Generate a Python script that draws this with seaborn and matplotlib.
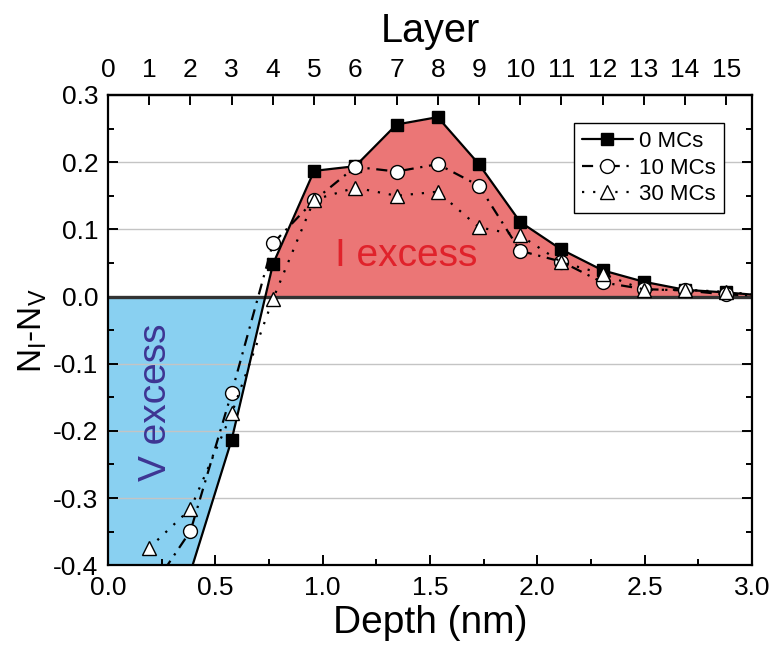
import numpy as np
import pandas as pd
import matplotlib
matplotlib.use("Agg")
import matplotlib.pyplot as plt
from matplotlib.ticker import MultipleLocator
import seaborn as sns

# ---- data ----
layer_nm = 0.192                      # depth of one layer (nm)
layers = list(range(1, 17))
mc0 = [-0.62, -0.41, -0.213, 0.048, 0.187, 0.194, 0.256, 0.267, 0.197, 0.111,
       0.070, 0.039, 0.022, 0.010, 0.006, 0.001]
mc10 = [-0.44, -0.349, -0.143, 0.079, 0.143, 0.193, 0.186, 0.197, 0.165, 0.068,
        0.052, 0.021, 0.011, 0.009, 0.003, 0.001]
mc30 = [-0.374, -0.316, -0.174, -0.004, 0.144, 0.162, 0.150, 0.156, 0.103, 0.091,
        0.051, 0.034, 0.010, 0.010, 0.007, 0.001]
series_names = ["0 MCs", "10 MCs", "30 MCs"]
layer_ticks = list(range(0, 16))

depth = np.array(layers) * layer_nm

sns.set_theme(style="white")
plt.rcParams["font.family"] = ["Liberation Sans", "DejaVu Sans"]
plt.rcParams["mathtext.default"] = "regular"
for k in ["text.color", "axes.labelcolor", "xtick.color", "ytick.color"]:
    plt.rcParams[k] = "black"

fig = plt.figure(figsize=(7.72, 6.46), dpi=100)
ax = fig.add_axes([0.140, 0.125, 0.834, 0.728])

RED = "#EB7676"
BLUE = "#89D0F1"

# fills under the 0 MCs curve
fx = np.r_[0.0, depth]
fy = np.r_[mc0[0], mc0]
ax.fill_between(fx, fy, 0, where=fy <= 0, interpolate=True, color=BLUE,
                linewidth=0, zorder=0.3)
ax.fill_between(fx, fy, 0, where=fy >= 0, interpolate=True, color=RED,
                linewidth=0, zorder=1)

ax.set_axisbelow(True)
ax.yaxis.grid(True, color="#C4C4C4", linewidth=1.0)
ax.xaxis.grid(False)
ax.axhline(0, color="#333333", linewidth=2.4, zorder=1.5)

styles = [
    dict(marker="s", markersize=8.5, markerfacecolor="black", linestyle="-", zorder=3),
    dict(marker="o", markersize=10, markerfacecolor="white", linestyle=(0, (5, 3, 1, 3)), zorder=4),
    dict(marker="^", markersize=10.5, markerfacecolor="white", linestyle=(0, (1, 4)), zorder=5),
]
for name, vals, st in zip(series_names, [mc0, mc10, mc30], styles):
    df = pd.DataFrame({"depth": depth, "value": vals})
    sns.lineplot(data=df, x="depth", y="value", ax=ax, color="black",
                 linewidth=1.6, markeredgecolor="black", markeredgewidth=1.0,
                 sort=False, estimator=None, label=name, **st)

ax.set_xlim(0, 3.0)
ax.set_ylim(-0.4, 0.3)
ax.xaxis.set_major_locator(MultipleLocator(0.5))
ax.xaxis.set_minor_locator(MultipleLocator(0.25))
ax.yaxis.set_major_locator(MultipleLocator(0.1))
ax.yaxis.set_minor_locator(MultipleLocator(0.05))
ax.xaxis.set_major_formatter(plt.FormatStrFormatter("%.1f"))
ax.yaxis.set_major_formatter(plt.FormatStrFormatter("%.1f"))
ax.tick_params(which="both", direction="in", left=True, right=True, bottom=True,
               top=False, width=1.4, colors="black", labelsize=19)
ax.tick_params(which="major", length=7)
ax.tick_params(which="minor", length=4)
ax.tick_params(axis="x", pad=8)
ax.tick_params(axis="y", pad=7)
for s in ax.spines.values():
    s.set_linewidth(1.6)
    s.set_color("black")

ax.set_xlabel("Depth (nm)", fontsize=28, labelpad=3)
ax.set_ylabel("$N_I$-$N_V$", fontsize=24, labelpad=3)

secax = ax.secondary_xaxis("top", functions=(lambda d: d / layer_nm, lambda l: l * layer_nm))
secax.set_xticks(layer_ticks)
secax.set_xticklabels([str(t) for t in layer_ticks])
secax.tick_params(direction="in", length=7, width=1.4, labelsize=19, pad=9,
                  colors="black")
secax.set_xlabel("Layer", fontsize=28.5, labelpad=12)
secax.spines["top"].set_linewidth(1.6)

ax.text(1.39, 0.06, "I excess", color="#E0222B", fontsize=28,
        ha="center", va="center", zorder=6)
ax.text(0.225, -0.158, "V excess", color="#3E3593", fontsize=28,
        ha="center", va="center", rotation=90, zorder=6)

leg = ax.legend(loc="upper right", bbox_to_anchor=(0.9565, 0.940), fontsize=16,
                frameon=True, fancybox=False, edgecolor="black", framealpha=1,
                handlelength=2.3, borderpad=0.35, labelspacing=0.25,
                handletextpad=0.3, borderaxespad=0)
leg.get_frame().set_linewidth(1.0)
leg.set_zorder(10)

fig.savefig("out.png", dpi=100)
